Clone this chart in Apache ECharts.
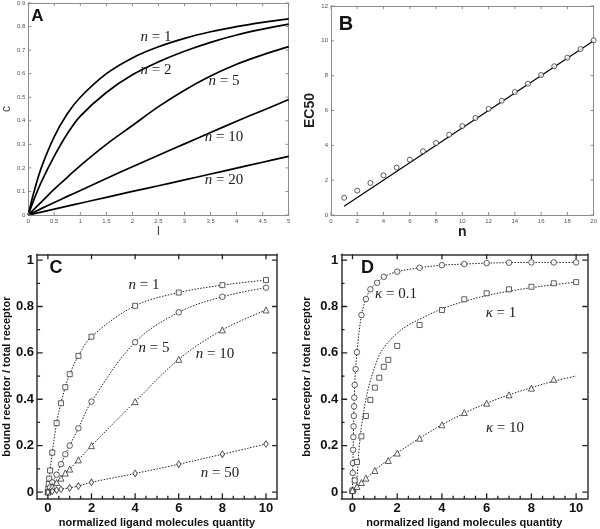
<!DOCTYPE html>
<html><head><meta charset="utf-8">
<script src="https://cdn.jsdelivr.net/npm/echarts@6/dist/echarts.min.js"></script>
<style>html,body{margin:0;padding:0;background:#fff}#c{width:600px;height:529px}#err{position:absolute;left:60px;top:120px;font:12px sans-serif;color:red;z-index:9;width:480px}</style>
</head><body><div id="c"></div><div id="err"></div>
<script>
window.onerror = function (m) { document.getElementById('err').textContent += ' ERR: ' + m; };
// ---------- Panel A : c versus l ----------
const aL   = [0, 0.1, 0.25, 0.5, 0.75, 1, 1.5, 2, 2.5, 3, 3.5, 4, 4.5, 5];
const aN1  = [0, 0.09, 0.2, 0.333, 0.43, 0.5, 0.6, 0.667, 0.714, 0.75, 0.778, 0.8, 0.818, 0.833];
const aN2  = [0, 0.06, 0.14, 0.25, 0.345, 0.42, 0.52, 0.595, 0.65, 0.695, 0.733, 0.764, 0.789, 0.81];
const aN5  = [0, 0.022, 0.055, 0.11, 0.16, 0.21, 0.30, 0.38, 0.46, 0.53, 0.59, 0.64, 0.68, 0.715];
const aN10 = [0, 0.011, 0.027, 0.053, 0.079, 0.104, 0.155, 0.205, 0.254, 0.302, 0.35, 0.398, 0.444, 0.49];
const aN20 = [0, 0.005, 0.0125, 0.025, 0.0375, 0.05, 0.075, 0.1, 0.124, 0.149, 0.174, 0.199, 0.224, 0.249];
const aLabels = ['n = 1', 'n = 2', 'n = 5', 'n = 10', 'n = 20'];
const aTicksX = [0, 0.5, 1, 1.5, 2, 2.5, 3, 3.5, 4, 4.5, 5];
const aTicksY = [0, 0.1, 0.2, 0.3, 0.4, 0.5, 0.6, 0.7, 0.8, 0.9];

// ---------- Panel B : EC50 versus n ----------
const bN    = [1,2,3,4,5,6,7,8,9,10,11,12,13,14,15,16,17,18,19,20];
const bEC50 = [0.99,1.40,1.84,2.28,2.72,3.18,3.66,4.13,4.61,5.11,5.57,6.09,6.56,7.06,7.54,8.04,8.54,9.03,9.53,10.03];
const bFitN = [1, 20];
const bFit  = [0.5, 10];
const bTicksX = [0, 2, 4, 6, 8, 10, 12, 14, 16, 18, 20];
const bTicksY = [0, 2, 4, 6, 8, 10, 12];

// ---------- Panel C ----------
const cX1  = [0, 0.02, 0.04, 0.06, 0.1, 0.2, 0.4, 0.6, 0.8, 1, 1.4, 2, 4, 6, 8, 10];
const cN1  = [0, 0.015, 0.035, 0.058, 0.093, 0.17, 0.297, 0.383, 0.452, 0.508, 0.587, 0.67, 0.803, 0.86, 0.892, 0.914];
const cX5  = [0, 0.1, 0.2, 0.4, 0.6, 0.8, 1, 1.4, 2, 4, 6, 8, 10];
const cN5  = [0, 0.02, 0.042, 0.075, 0.12, 0.163, 0.2, 0.275, 0.39, 0.646, 0.775, 0.842, 0.881];
const cX10 = [0, 0.2, 0.4, 0.6, 0.8, 1, 1.4, 2, 4, 6, 8, 10];
const cN10 = [0, 0.024, 0.041, 0.06, 0.082, 0.099, 0.139, 0.2, 0.39, 0.572, 0.699, 0.785];
const cX50 = [0, 0.2, 0.4, 0.6, 1, 1.4, 2, 4, 6, 8, 10];
const cN50 = [0, 0.004, 0.008, 0.012, 0.018, 0.026, 0.042, 0.08, 0.12, 0.163, 0.207];
const cLabels = ['n = 1', 'n = 5', 'n = 10', 'n = 50'];

// ---------- Panel D ----------
const dX01   = [0, 0.01, 0.02, 0.03, 0.04, 0.05, 0.06, 0.07, 0.08, 0.1, 0.14, 0.2, 0.4, 0.6, 0.8, 1.1, 1.4, 2, 3, 4, 5, 6, 7, 8, 9, 10];
const dK01   = [0.005, 0.082, 0.125, 0.182, 0.237, 0.283, 0.328, 0.369, 0.407, 0.462, 0.53, 0.603, 0.763, 0.832, 0.874, 0.902, 0.928, 0.95, 0.967, 0.978, 0.983, 0.987, 0.989, 0.99, 0.99, 0.99];
const dX1    = [0, 0.1, 0.2, 0.4, 0.6, 0.8, 1, 1.2, 1.4, 1.6, 2, 3, 4, 5, 6, 7, 8, 9, 10];
const dK1    = [0.007, 0.05, 0.129, 0.24, 0.328, 0.397, 0.45, 0.493, 0.54, 0.57, 0.63, 0.72, 0.785, 0.831, 0.857, 0.874, 0.885, 0.9, 0.905];
const dFitX1 = [0.15, 0.2, 0.3, 0.4, 0.6, 0.8, 1, 1.2, 1.5, 2, 2.5, 3, 4, 5, 6, 7, 8, 9, 10];
const dFit1  = [0, 0.06, 0.19, 0.28, 0.40, 0.48, 0.54, 0.59, 0.635, 0.685, 0.72, 0.745, 0.79, 0.822, 0.847, 0.866, 0.881, 0.894, 0.905];
const dX10   = [0, 0.2, 0.4, 0.6, 1, 1.6, 2, 3, 4, 5, 6, 7, 8, 9];
const dK10   = [0.007, 0.024, 0.041, 0.06, 0.093, 0.136, 0.168, 0.232, 0.29, 0.343, 0.383, 0.419, 0.448, 0.486];
const dFitX10 = [0, 1, 2, 3, 4, 5, 6, 7, 8, 9, 10];
const dFit10  = [0, 0.093, 0.168, 0.232, 0.29, 0.34, 0.383, 0.419, 0.45, 0.478, 0.5];
const dLabels = ['κ = 0.1', 'κ = 1', 'κ = 10'];

const cdMajorX = [0, 2, 4, 6, 8, 10];
const cdMinorX = [0.5,1,1.5,2.5,3,3.5,4.5,5,5.5,6.5,7,7.5,8.5,9,9.5];
const cdMajorY = [0, 0.2, 0.4, 0.6, 0.8, 1];
const cdMinorY = [0.1, 0.3, 0.5, 0.7, 0.9];

const zip = (xs, ys) => xs.map((x, i) => [x, ys[i]]);

const grids = [
  {left: 19.3, top: 2.3, width: 269.4, height: 212.7},
  {left: 331, top: 6, width: 265.7, height: 209},
  {left: 30.5, top: 254.3, width: 246.4, height: 245},
  {left: 341.3, top: 254.3, width: 246, height: 245}
];

const xAxes = [], yAxes = [];
function addAxes(gi, c) {
  const xi = xAxes.length, yi = yAxes.length;
  const mkLine = () => ({onZero: false, lineStyle: {color: c.frame, width: c.fw}});
  xAxes.push({gridIndex: gi, type: 'value', position: 'bottom', min: c.xMin, max: c.xMax,
    axisLine: mkLine(), axisTick: {show: false}, splitLine: {show: false},
    axisLabel: Object.assign({margin: c.xMargin, customValues: c.xTicks}, c.label),
    name: c.xName, nameLocation: 'middle', nameGap: c.xNameGap, nameTextStyle: c.xNameStyle});
  xAxes.push({gridIndex: gi, type: 'value', position: 'top', min: c.xMin, max: c.xMax,
    axisLine: mkLine(), axisTick: {show: false}, splitLine: {show: false}, axisLabel: {show: false}});
  yAxes.push({gridIndex: gi, type: 'value', position: 'left', min: c.yMin, max: c.yMax,
    axisLine: mkLine(), axisTick: {show: false}, splitLine: {show: false},
    axisLabel: Object.assign({margin: c.yMargin, customValues: c.yTicks}, c.label),
    name: c.yName, nameLocation: 'middle', nameGap: c.yNameGap, nameTextStyle: c.yNameStyle});
  yAxes.push({gridIndex: gi, type: 'value', position: 'right', min: c.yMin, max: c.yMax,
    axisLine: mkLine(), axisTick: {show: false}, splitLine: {show: false}, axisLabel: {show: false}});
  return {x: xi, y: yi};
}

const smallLabel = {fontSize: 6, color: '#555', fontFamily: 'Liberation Sans'};
const boldLabel = {fontSize: 13, color: '#111', fontWeight: 'bold', fontFamily: 'Liberation Sans'};
const boldName = {fontSize: 11, color: '#111', fontWeight: 'bold', fontFamily: 'Liberation Sans'};

const cfgA = {xMin: 0, xMax: 5, yMin: 0, yMax: 0.9, xTicks: aTicksX, yTicks: aTicksY,
  frame: '#8c8c8c', fw: 1, label: smallLabel, xMargin: 3, yMargin: 3,
  xName: 'l', xNameGap: 9, xNameStyle: {fontSize: 13, color: '#444', fontFamily: 'Liberation Sans'},
  yName: 'c', yNameGap: 7, yNameStyle: {fontSize: 12, color: '#444', fontFamily: 'Liberation Sans'}};
const cfgB = {xMin: 0, xMax: 20, yMin: 0, yMax: 12, xTicks: bTicksX, yTicks: bTicksY,
  frame: '#8c8c8c', fw: 1, label: smallLabel, xMargin: 3, yMargin: 3,
  xName: 'n', xNameGap: 6, xNameStyle: {fontSize: 14, fontWeight: 'bold', color: '#222', fontFamily: 'Liberation Sans'},
  yName: 'EC50', yNameGap: 9, yNameStyle: {fontSize: 14, fontWeight: 'bold', color: '#222', fontFamily: 'Liberation Sans'}};
const cdCfg = (yGap) => ({xMin: -0.5, xMax: 10.5, yMin: -0.03, yMax: 1.025,
  xTicks: cdMajorX, yTicks: cdMajorY, xMinor: cdMinorX, yMinor: cdMinorY,
  frame: '#333', fw: 1.5, label: boldLabel, xMargin: 3, yMargin: 3,
  xName: 'normalized ligand molecules quantity', xNameGap: 18, xNameStyle: boldName,
  yName: 'bound receptor / total receptor', yNameGap: yGap, yNameStyle: boldName});
const cfgC = cdCfg(19), cfgD = cdCfg(29);
const axA = addAxes(0, cfgA);
const axB = addAxes(1, cfgB);
const axC = addAxes(2, cfgC);
const axD = addAxes(3, cfgD);

const series = [];
function curve(ax, xs, ys, w) {
  series.push({type: 'line', xAxisIndex: ax.x, yAxisIndex: ax.y, data: zip(xs, ys), smooth: 0.35,
    showSymbol: false, symbol: 'none', lineStyle: {color: '#000', width: w}, z: 3, silent: true});
}
function dotted(ax, xs, ys) {
  series.push({type: 'line', xAxisIndex: ax.x, yAxisIndex: ax.y, data: zip(xs, ys), smooth: 0.35,
    symbol: 'none', lineStyle: {color: '#222', width: 1, type: [1.5, 1.5]}, z: 3, silent: true});
}
function marks(ax, xs, ys, sym, size) {
  series.push({type: 'scatter', xAxisIndex: ax.x, yAxisIndex: ax.y, data: zip(xs, ys), symbol: sym, symbolSize: size,
    itemStyle: {color: '#fff', borderColor: '#222', borderWidth: 0.9}, z: 5, silent: true});
}
// inward tick marks on the four sides: plain line series through the axes' own scales
function ticks(ax, c, st) {
  const add = (a, b) => series.push({type: 'line', xAxisIndex: ax.x, yAxisIndex: ax.y, data: [a, b],
    symbol: 'none', lineStyle: {color: st.color, width: st.width}, z: 4, silent: true, clip: false});
  const xr = c.xMax - c.xMin, yr = c.yMax - c.yMin;
  const fx = st.frac * yr, fy = st.frac * xr * c.aspect;
  c.xTicks.forEach(v => {
    add([v, c.yMin], [v, c.yMin + fx]);
    add([v, c.yMax], [v, c.yMax - fx * st.farRatio]);
  });
  c.yTicks.forEach(v => {
    add([c.xMin, v], [c.xMin + fy, v]);
    add([c.xMax, v], [c.xMax - fy * st.farRatio, v]);
  });
  (c.xMinor || []).forEach(v => add([v, c.yMin], [v, c.yMin + fx * st.minorRatio]));
  (c.yMinor || []).forEach(v => add([c.xMin, v], [c.xMin + fy * st.minorRatio, v]));
}

[aN1, aN2, aN5, aN10, aN20].forEach(ys => curve(axA, aL, ys, 1.7));
curve(axB, bFitN, bFit, 1.2);
marks(axB, bN, bEC50, 'circle', 5);

dotted(axC, cX1, cN1);  marks(axC, cX1, cN1, 'rect', 5);
dotted(axC, cX5, cN5);  marks(axC, cX5, cN5, 'circle', 5.5);
dotted(axC, cX10, cN10); marks(axC, cX10, cN10, 'triangle', 6);
dotted(axC, cX50, cN50); marks(axC, cX50, cN50, 'diamond', [4.5, 6.5]);

dotted(axD, dX01, dK01);    marks(axD, dX01, dK01, 'circle', 5.5);
dotted(axD, dFitX1, dFit1); marks(axD, dX1, dK1, 'rect', 5);
dotted(axD, dFitX10, dFit10); marks(axD, dX10, dK10, 'triangle', 6);

// tick lengths as fraction of the plot height; aspect converts to the x direction
cfgA.aspect = 212.7 / 269.4; cfgB.aspect = 209 / 265.7; cfgC.aspect = 245 / 246.4; cfgD.aspect = 245 / 246;
const thinTicks = {color: '#8c8c8c', width: 1, frac: 0.015, farRatio: 1, minorRatio: 0.6};
const boldTicks = {color: '#222', width: 1.3, frac: 0.024, farRatio: 0.85, minorRatio: 0.55};
ticks(axA, cfgA, thinTicks);
ticks(axB, cfgB, thinTicks);
ticks(axC, cfgC, boldTicks);
ticks(axD, cfgD, boldTicks);

function ann(text, x, y) {
  const parts = text.split(' ');
  return {type: 'text', x: x, y: y, z: 10, silent: true,
    style: {text: '{i|' + parts[0] + '} ' + parts.slice(1).join(' '),
      rich: {i: {fontStyle: 'italic', fontFamily: 'Liberation Serif', fontSize: 15, fill: '#222'}},
      fontFamily: 'Liberation Serif', fontSize: 15, fill: '#222', align: 'center', verticalAlign: 'middle'}};
}
function letter(t, x, y, size) {
  return {type: 'text', x: x, y: y, z: 10, silent: true,
    style: {text: t, fontFamily: 'Liberation Sans', fontWeight: 'bold', fontSize: size, fill: '#111',
      align: 'center', verticalAlign: 'middle'}};
}

const annPos = {
  A: [[156, 37], [156, 70], [224, 81], [224, 137], [224, 180]],
  C: [[144, 285], [154, 348], [215, 354], [220, 473]],
  D: [[396, 294], [501, 313], [505, 428]]
};
const graphic = [
  letter('A', 37.5, 16.5, 17), letter('B', 346, 24, 20), letter('C', 56, 268, 18), letter('D', 367.5, 268, 18)
];
aLabels.forEach((t, i) => graphic.push(ann(t, annPos.A[i][0], annPos.A[i][1])));
cLabels.forEach((t, i) => graphic.push(ann(t, annPos.C[i][0], annPos.C[i][1])));
dLabels.forEach((t, i) => graphic.push(ann(t, annPos.D[i][0], annPos.D[i][1])));

const chart = echarts.init(document.getElementById('c'), null, {renderer: 'canvas', width: 600, height: 529});
try {
  chart.setOption({
    backgroundColor: '#fff',
    animation: false,
    grid: grids,
    xAxis: xAxes,
    yAxis: yAxes,
    series: series,
    graphic: graphic
  });
} catch (e) { document.getElementById('err').textContent += ' EXC: ' + e.message; }
</script>
</body></html>
